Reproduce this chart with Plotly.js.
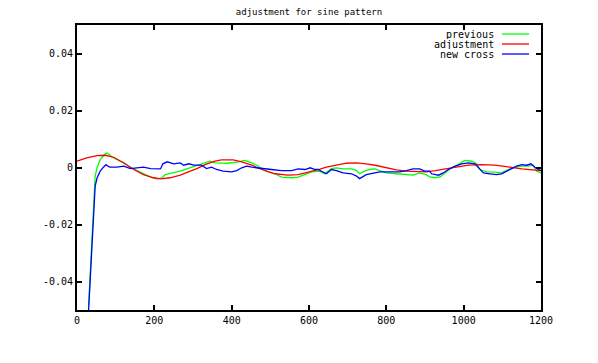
<!DOCTYPE html>
<html>
<head>
<meta charset="utf-8">
<script src="https://cdn.plot.ly/plotly-3.0.1.min.js"></script>
<style>html,body{margin:0;padding:0;background:#fff}#c{width:598px;height:363px}</style>
</head>
<body>
<div id="c"></div>
<script>
// previous
const prevX = [30,34,37,39,43,47,52,60,69,76,82,90,103,121,138,155,172,190,207,220,228,250,267,284,297,310,322,344,357,391,417,434,452,465,486,512,529,555,572,590,607,628,640,649,658,671,688,710,723,731,744,757,770,783,800,826,852,869,886,903,912,926,939,952,969,986,1003,1021,1034,1042,1060,1081,1098,1115,1133,1150,1167,1180,1189,1200];
const prevY = [-0.0485,-0.037,-0.028,-0.0206,-0.0089,-0.003,-0.0001,0.0028,0.0042,0.0051,0.0047,0.0037,0.0028,0.0016,0.0001,-0.0011,-0.0022,-0.0034,-0.0040,-0.0036,-0.0025,-0.0019,-0.0013,-0.0005,0.0001,0.0005,0.0013,0.0022,0.0016,0.0015,0.0020,0.0025,0.0016,0.0008,-0.0011,-0.0022,-0.0034,-0.0036,-0.0034,-0.0025,-0.0015,-0.0013,-0.0022,-0.0013,-0.0004,-0.0001,-0.0005,-0.0005,-0.0011,-0.0022,-0.0013,-0.0007,-0.0005,-0.0011,-0.0019,-0.0022,-0.0025,-0.0027,-0.0019,-0.0025,-0.0033,-0.0036,-0.0033,-0.0019,-0.0001,0.0010,0.0025,0.0022,0.0013,-0.0007,-0.0015,-0.0016,-0.0019,-0.0007,0.0001,0.0005,0.0005,0.0008,-0.0013,-0.0019];
// adjustment
const adjX = [0,25,52,73,95,121,147,172,198,216,241,267,293,310,331,357,374,404,426,452,478,512,546,572,598,616,628,645,671,697,723,748,774,800,826,852,877,903,926,952,978,1012,1047,1081,1115,1150,1200];
const adjY = [0.0022,0.0034,0.0042,0.0043,0.0036,0.0016,-0.0007,-0.0025,-0.0036,-0.0040,-0.0036,-0.0027,-0.0013,-0.0004,0.0010,0.0022,0.0027,0.0027,0.0020,0.0008,-0.0007,-0.0022,-0.0027,-0.0025,-0.0016,-0.0011,-0.0006,0.0001,0.0008,0.0015,0.0016,0.0013,0.0007,-0.0001,-0.0008,-0.0013,-0.0015,-0.0015,-0.0011,-0.0005,0.0001,0.0008,0.0010,0.0008,0.0002,-0.0005,-0.0011];
// new cross
const newX = [30,34.5,39,43,47,52,60,69,75,82,86,103,121,138,155,172,190,216,222,233,250,267,276,289,302,322,335,348,361,378,400,413,426,439,452,469,486,503,529,555,572,590,603,616,623,636,645,658,671,688,710,723,731,748,766,783,809,835,852,869,886,899,912,917,935,947,960,978,995,1012,1029,1042,1051,1068,1085,1098,1111,1124,1137,1150,1163,1174,1184,1200];
const newY = [-0.05,-0.038,-0.0229,-0.0124,-0.0065,-0.0036,-0.0013,0.0002,0.0010,0.0003,0.0001,0.0001,0.0005,-0.0004,-0.0001,0.0001,-0.0004,-0.0005,0.0013,0.0020,0.0013,0.0016,0.0008,0.0013,0.0008,0.0008,-0.0004,0.0001,-0.0007,-0.0013,-0.0015,-0.0011,-0.0001,0.0005,0.0001,-0.0001,-0.0004,-0.0007,-0.0011,-0.0011,-0.0005,-0.0007,-0.0001,-0.0007,-0.0007,-0.0015,-0.0022,-0.0007,-0.0011,-0.0019,-0.0022,-0.0030,-0.0039,-0.0025,-0.0019,-0.0015,-0.0015,-0.0015,-0.0011,-0.0005,-0.0005,-0.0013,-0.0013,-0.0022,-0.0027,-0.0019,-0.0007,0.0005,0.0013,0.0016,0.0013,-0.0007,-0.0019,-0.0022,-0.0025,-0.0022,-0.0013,-0.0004,0.0005,0.0010,0.0008,0.0013,0.0001,-0.0011];

const seriesNames = ["previous","adjustment","new cross"];
const seriesColors = ["#00ff00","#ff0000","#0000ff"];
const xTicks = [0,200,400,600,800,1000,1200];
const xTickText = ["0","200","400","600","800","1000","1200"];
const yTicks = [-0.04,-0.02,0,0.02,0.04];
const yTickText = ["-0.04","-0.02","0","0.02","0.04"];

const FONT = "DejaVu Sans Mono, monospace";
const xs = [prevX, adjX, newX], ys = [prevY, adjY, newY];
const traces = xs.map((x,i)=>({x:x, y:ys[i], type:'scatter', mode:'lines', name:seriesNames[i],
  line:{color:seriesColors[i], width:1.3}, showlegend:false}));

const W=598, H=363, L=77, R=57, T=25, B=53;
const pw = W-L-R, ph = H-T-B;
const legRight = (495-L)/pw, legL1=(502-L)/pw, legL2=(529-L)/pw;
const rowsY = [34,44,54].map(y=>(H-B-y)/ph);
const annotations = seriesNames.map((n,i)=>({xref:'paper', yref:'paper', x:legRight, y:rowsY[i],
  xanchor:'right', yanchor:'middle', text:n, showarrow:false, height:9, borderpad:0,
  font:{family:FONT, size:10, color:'#000'}}));
const shapes = seriesNames.map((n,i)=>({type:'line', xref:'paper', yref:'paper', x0:legL1, x1:legL2, y0:rowsY[i], y1:rowsY[i],
  line:{color:seriesColors[i], width:1.3}}));

const axisCommon = {showline:true, linecolor:'#000', linewidth:2, mirror:'allticks', ticks:'inside', ticklen:5,
  tickwidth:2, tickcolor:'#000', showgrid:false, zeroline:false, tickmode:'array', tickfont:{family:FONT, size:10, color:'#000'}};
const layout = {
  width:W, height:H, margin:{l:L, r:R, t:T, b:B}, paper_bgcolor:'#fff', plot_bgcolor:'#fff',
  title:{text:'adjustment for sine pattern', font:{family:FONT, size:9, color:'#000'}, xref:'paper', x:0.5, xanchor:'center', yref:'container', y:1-12/H, yanchor:'middle'},
  xaxis:Object.assign({}, axisCommon, {range:[0,1200], tickvals:xTicks, ticktext:xTickText}),
  yaxis:Object.assign({}, axisCommon, {range:[-0.05,0.05], tickvals:yTicks, ticktext:yTickText}),
  annotations:annotations, shapes:shapes, showlegend:false
};
Plotly.newPlot('c', traces, layout, {displayModeBar:false, staticPlot:true});
</script>
</body>
</html>
